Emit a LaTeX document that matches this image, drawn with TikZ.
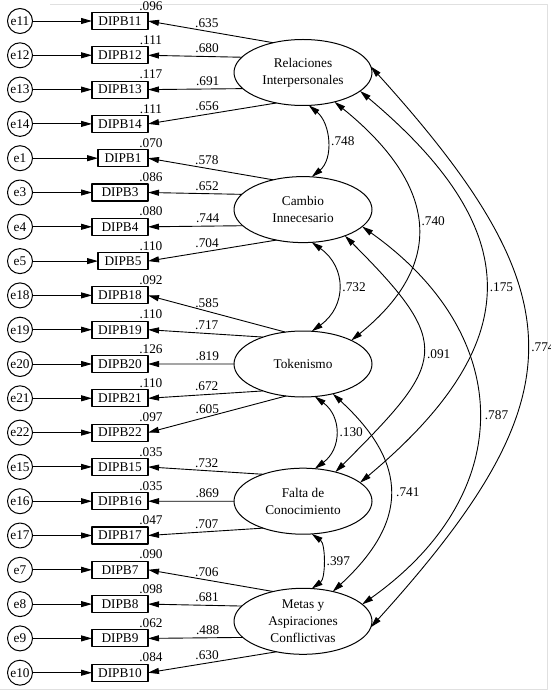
\documentclass[tikz,border=0pt]{standalone}
\usepackage{fontspec}
\setmainfont{Liberation Serif}
\usetikzlibrary{arrows.meta,shapes.geometric}

\begin{document}
\begin{tikzpicture}[x=1pt, y=-1pt, >={Triangle[length=11pt,width=6pt]}, font=\fontsize{13.3}{17}\selectfont, line join=round]
	\tikzset{latent/.style={draw, ellipse, line width=1pt, minimum width=138pt, minimum height=66pt, inner sep=0pt, outer sep=0pt, align=center},
		obs/.style={draw, rectangle, line width=1.1pt, minimum height=17pt, inner xsep=2pt, inner ysep=0pt, outer sep=0pt, anchor=east},
		err/.style={draw, circle, line width=1pt, minimum size=25pt, inner sep=0pt, outer sep=0pt},
		num/.style={inner sep=1pt},
		loading/.style={->, line width=0.9pt},
		covar/.style={<->, line width=0.9pt}}
	\useasboundingbox (0,0) rectangle (550,692);
	\draw[black!12] (50,4) -- (547,4) -- (547,689) -- (0,689);
	% factores
	\node[latent] (rel) at (303,72.5) {Relaciones\\Interpersonales};
	\node[latent] (cam) at (303,209.6) {Cambio\\Innecesario};
	\node[latent] (tok) at (303,364) {Tokenismo};
	\node[latent] (fal) at (303,501.2) {Falta de\\Conocimiento};
	\node[latent] (met) at (303,621.3) {Metas y\\Aspiraciones\\Conflictivas};
	% items y errores
	\foreach \i/\r/\v/\w in {11/1/.096/56, 12/2/.111/56, 13/3/.117/56, 14/4/.111/56, 1/5/.070/50, 3/6/.086/56, 4/7/.080/56, 5/8/.110/50, 18/9/.092/56, 19/10/.110/56, 20/11/.126/56, 21/12/.110/56, 22/13/.097/56, 15/14/.035/56, 16/15/.035/56, 17/16/.047/56, 7/17/.090/56, 8/18/.098/56, 9/19/.062/56, 10/20/.084/56}{
		\node[err] (e\i) at (20,{21+34.3*(\r-1)}) {e\i};
		\node[obs, minimum width=\w pt] (b\i) at (148,{21+34.3*(\r-1)}) {DIPB\i};
		\node[num, anchor=south, xshift=3pt, yshift=1pt] (r\i) at (b\i.north east) {\v};
		\draw[loading] (e\i) -- (b\i);
	}
	% cargas
	\foreach \f/\a/\i/\p/\v in {rel/135/11/.53/.635, rel/166/12/.37/.680, rel/195/13/.37/.691, rel/229/14/.54/.656,
		cam/135/1/.53/.578, cam/166/3/.37/.652, cam/195/4/.37/.744, cam/229/5/.54/.704,
		tok/119/18/.57/.585, tok/146/19/.49/.717, tok/180/20/.31/.819, tok/214/21/.49/.672, tok/242/22/.57/.605,
		fal/146/15/.49/.732, fal/180/16/.31/.869, fal/214/17/.49/.707,
		met/135/7/.53/.706, met/166/8/.37/.681, met/195/9/.37/.488, met/229/10/.54/.630}
		\draw[loading] (\f.\a) -- node[num, above=2pt, pos=\p] (l\i) {\v} (b\i.east);
	% correlaciones
	\draw[covar] (rel.-80) .. controls +(22,18) and +(22,-18) .. node[num, right=3pt] (rc) {.748} (cam.75);
	\draw[covar] (rel.-43) .. controls +(99,80) and +(99,-80) .. node[num, right=3pt] (rt) {.740} (tok.26);
	\draw[covar] (rel.-18) .. controls +(167,140) and +(167,-140) .. node[num, right=3pt] (rf) {.175} (fal.18);
	\draw[covar] (rel.5) .. controls +(208,230) and +(208,-230) .. node[num, right=3pt] (rm) {.774} (met.-5);
	\draw[covar] (cam.-75) .. controls +(35,25) and +(35,-25) .. node[num, right=3pt] (ct) {.732} (tok.75);
	\draw[covar] (cam.-32) .. controls +(110,110) and +(110,-110) .. node[num, right=3pt] (cf) {.091} (fal.42);
	\draw[covar] (cam.-16) .. controls +(155,110) and +(155,-110) .. node[num, right=5pt] (cm) {.787} (met.16);
	\draw[covar] (tok.-70) .. controls +(27,20) and +(27,-20) .. node[num, right=3pt] (tf) {.130} (fal.70);
	\draw[covar] (tok.-45) .. controls +(76,70) and +(76,-70) .. node[num, right=5pt] (tm) {.741} (met.45);
	\draw[covar] (fal.-75) .. controls +(14,10) and +(14,-10) .. node[num, right=3pt] (fm) {.397} (met.75);
\end{tikzpicture}
\end{document}
